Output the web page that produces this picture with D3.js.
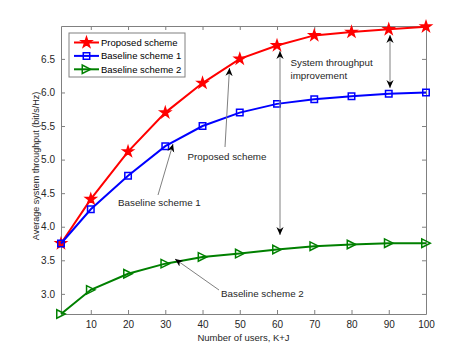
<!DOCTYPE html>
<html>
<head>
<meta charset="utf-8">
<script src="https://cdn.jsdelivr.net/npm/d3@7"></script>
<style>
  body { margin: 0; background: #fff; }
  svg { font-family: "Liberation Sans", Arial, sans-serif; }
</style>
</head>
<body>
<div id="chart"></div>
<script>
// data
var users = [2, 10, 20, 30, 40, 50, 60, 70, 80, 90, 100];
var proposed = [3.75, 4.41, 5.12, 5.70, 6.14, 6.50, 6.70, 6.85, 6.90, 6.94, 6.98];
var baseline1 = [3.75, 4.26, 4.76, 5.20, 5.50, 5.70, 5.83, 5.90, 5.945, 5.98, 6.00];
var baseline2 = [2.70, 3.06, 3.30, 3.45, 3.55, 3.60, 3.66, 3.71, 3.735, 3.755, 3.755];
var xTicks = [10, 20, 30, 40, 50, 60, 70, 80, 90, 100];
var yTicks = [3, 3.5, 4, 4.5, 5, 5.5, 6, 6.5];
var seriesNames = ["Proposed scheme", "Baseline scheme 1", "Baseline scheme 2"];

var W = 471, H = 353;
var margin = {top: 26, right: 45, bottom: 39, left: 61},
    width = W - margin.left - margin.right,
    height = H - margin.top - margin.bottom;

var x = d3.scaleLinear().domain([2, 100]).range([0, width]);
var y = d3.scaleLinear().domain([2.70, 6.99]).range([height, 0]);

var fs = "9.5px";

var svg = d3.select("#chart").append("svg")
    .attr("width", W)
    .attr("height", H);

svg.append("defs").append("marker")
    .attr("id", "head")
    .attr("viewBox", "0 -5 10 10")
    .attr("refX", 10).attr("refY", 0)
    .attr("markerWidth", 8).attr("markerHeight", 8)
    .attr("markerUnits", "userSpaceOnUse")
    .attr("orient", "auto")
  .append("path")
    .attr("d", "M0,-4.5L10,0L0,4.5L3,0Z")
    .attr("fill", "#000");

var g = svg.append("g")
    .attr("transform", "translate(" + margin.left + "," + margin.top + ")");

var axisColor = "#808080";

// axes (box with inward ticks on all sides)
function styleAxis(sel) {
  sel.select(".domain").attr("stroke", axisColor);
  sel.selectAll(".tick line").attr("stroke", axisColor);
  sel.selectAll(".tick text").attr("fill", "#262626").style("font-size", "10px");
}
g.append("g")
    .attr("transform", "translate(0," + height + ")")
    .call(d3.axisBottom(x).tickValues(xTicks).tickSizeInner(-4).tickSizeOuter(0).tickPadding(7))
    .call(styleAxis);
g.append("g")
    .call(d3.axisTop(x).tickValues(xTicks).tickSizeInner(-4).tickSizeOuter(0).tickFormat(""))
    .call(styleAxis);
g.append("g")
    .call(d3.axisLeft(y).tickValues(yTicks).tickSizeInner(-4).tickSizeOuter(0).tickPadding(6))
    .call(styleAxis);
g.append("g")
    .attr("transform", "translate(" + width + ",0)")
    .call(d3.axisRight(y).tickValues(yTicks).tickSizeInner(-4).tickSizeOuter(0).tickFormat(""))
    .call(styleAxis);

// labels
svg.append("text")
    .attr("x", margin.left + width / 2).attr("y", 341)
    .attr("text-anchor", "middle")
    .attr("fill", "#262626")
    .style("font-size", fs)
    .text("Number of users, K+J");
svg.append("text")
    .attr("transform", "translate(37," + (margin.top + height / 2 - 4) + ") rotate(-90)")
    .attr("text-anchor", "middle")
    .attr("dominant-baseline", "middle")
    .attr("fill", "#262626")
    .style("font-size", "9px")
    .text("Average system throughput (bit/s/Hz)");

// series
var triRight = {
  draw: function(ctx, size) {
    var r = Math.sqrt(size) / 2;
    ctx.moveTo(r, 0);
    ctx.lineTo(-r, -r);
    ctx.lineTo(-r, r);
    ctx.closePath();
  }
};
var series = [
  {name: seriesNames[0], values: proposed, color: "#ff0000", symbol: d3.symbolStar, size: 32, fill: "#ff0000"},
  {name: seriesNames[1], values: baseline1, color: "#0000ff", symbol: d3.symbolSquare, size: 42, fill: "none"},
  {name: seriesNames[2], values: baseline2, color: "#008000", symbol: triRight, size: 72, fill: "none"}
];

var line = d3.line()
    .x(function(d, i) { return x(users[i]); })
    .y(function(d) { return y(d); });

series.forEach(function(s) {
  g.append("path")
      .datum(s.values)
      .attr("fill", "none")
      .attr("stroke", s.color)
      .attr("stroke-width", 2)
      .attr("d", line);
  g.selectAll(null)
      .data(s.values)
      .enter().append("path")
      .attr("transform", function(d, i) { return "translate(" + x(users[i]) + "," + y(d) + ")"; })
      .attr("d", d3.symbol().type(s.symbol).size(s.size))
      .attr("fill", s.fill)
      .attr("stroke", s.color)
      .attr("stroke-width", 1.5);
});

// legend
var legend = svg.append("g").attr("transform", "translate(69,33)");
legend.append("rect")
    .attr("width", 116).attr("height", 44)
    .attr("fill", "#fff")
    .attr("stroke", axisColor)
    .attr("stroke-width", 1);
series.forEach(function(s, i) {
  var ly = 9.5 + i * 13.4;
  legend.append("line")
      .attr("x1", 5).attr("x2", 30).attr("y1", ly).attr("y2", ly)
      .attr("stroke", s.color).attr("stroke-width", 2);
  legend.append("path")
      .attr("transform", "translate(17.5," + ly + ")")
      .attr("d", d3.symbol().type(s.symbol).size(s.size))
      .attr("fill", s.fill)
      .attr("stroke", s.color)
      .attr("stroke-width", 1.5);
  legend.append("text")
      .attr("x", 32).attr("y", ly)
      .attr("dominant-baseline", "central")
      .attr("fill", "#000")
      .style("font-size", fs)
      .text(s.name);
});

// annotations
function arrow(x1, y1, x2, y2, both) {
  svg.append("line")
      .attr("x1", x1).attr("y1", y1).attr("x2", x2).attr("y2", y2)
      .attr("stroke", "#808080").attr("stroke-width", 1)
      .attr("marker-end", "url(#head)");
  if (both) {
    // reverse copy only to carry the second head
    svg.append("line")
        .attr("x1", x2).attr("y1", y2).attr("x2", x1).attr("y2", y1)
        .attr("stroke", "none")
        .attr("marker-end", "url(#head)");
  }
}
function note(tx, ty, txt) {
  svg.append("text")
      .attr("x", tx).attr("y", ty)
      .attr("dominant-baseline", "central")
      .attr("fill", "#262626")
      .style("font-size", "9.8px")
      .text(txt);
}
arrow(225, 147, 229.5, 68);
note(187.5, 156, "Proposed scheme");
arrow(158, 195, 173, 144);
note(118, 202.5, "Baseline scheme 1");
arrow(219, 290, 175, 259);
note(221, 293.5, "Baseline scheme 2");
arrow(280, 235, 280, 51, true);
arrow(390, 88, 390, 35, true);
note(290.5, 62, "System throughput");
note(290.5, 75.5, "improvement");
</script>
</body>
</html>
